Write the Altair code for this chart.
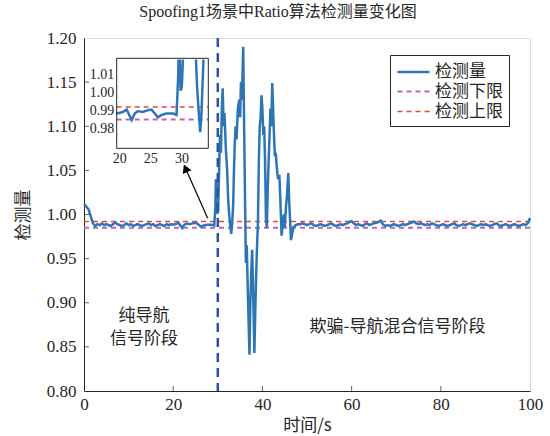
import altair as alt
import pandas as pd

# ---------------- data ----------------
series_names = ["检测量", "检测下限", "检测上限"]
series_colors = ["#2e75b6", "#c060c4", "#e8473f"]

# before spoofing (pure navigation)
t_pre = [0.0, 0.5, 1.0, 1.5, 2.0, 2.5, 3.0, 3.5, 4.0, 4.5,
         5.0, 5.5, 6.0, 6.5, 7.0, 7.5, 8.0, 8.5, 9.0, 9.5,
         10.0, 10.5, 11.0, 11.5, 12.0, 12.5, 13.0, 13.5, 14.0, 14.5,
         15.0, 15.5, 16.0, 16.5, 17.0, 17.5, 18.0, 18.5, 19.0, 19.5,
         19.7, 20.6, 21.2, 21.7, 22.0, 22.5, 23.0, 23.8, 24.6, 25.2,
         25.7, 26.2, 26.8, 27.6, 28.6, 29.2, 29.45]
v_pre = [1.012, 1.009, 1.006, 0.998, 0.990, 0.987, 0.989, 0.988, 0.990, 0.988,
         0.989, 0.988, 0.987, 0.989, 0.991, 0.989, 0.988, 0.987, 0.988, 0.990,
         0.988, 0.989, 0.987, 0.988, 0.989, 0.988, 0.987, 0.988, 0.989, 0.990,
         0.988, 0.989, 0.987, 0.988, 0.989, 0.988, 0.987, 0.989, 0.988, 0.989,
         0.9884, 0.9892, 0.9905, 0.9869, 0.9847, 0.9884, 0.9896, 0.9892, 0.9902, 0.9905,
         0.9884, 0.9862, 0.9875, 0.9884, 0.9884, 0.9875, 1.0075]

# spoofing transition
t_spoof = [29.57, 29.7, 29.85, 30.05, 30.3, 30.5, 30.7, 30.9, 31.1, 31.3,
           31.5, 31.8, 32.1, 32.3, 32.5, 32.75, 33.0, 33.2, 33.45, 33.6,
           33.8, 34.0, 34.2, 34.5, 34.8, 35.0, 35.2, 35.4, 35.7, 35.9,
           36.1, 36.3, 36.5, 36.7, 36.9, 37.1, 37.3, 37.5, 37.7, 37.9,
           38.0, 38.2, 38.4, 38.6, 38.8, 39.0, 39.2, 39.4, 39.6, 39.8,
           40.0, 40.2, 40.4, 40.6, 40.8, 41.0, 41.2, 41.4, 41.6, 41.8,
           42.0, 42.2, 42.4, 42.6, 42.8, 43.0, 43.2, 43.5, 43.8, 44.0,
           44.3, 44.6, 44.8, 45.0, 45.3, 45.5, 45.8, 46.0, 46.2, 46.4,
           46.7, 47.0]
v_spoof = [1.040, 1.035, 1.001, 1.003, 1.050, 1.090, 1.070, 1.120, 1.143, 1.100,
           1.115, 1.075, 1.050, 1.020, 1.003, 0.990, 0.978, 0.988, 1.011, 1.045,
           1.080, 1.100, 1.085, 1.120, 1.130, 1.110, 1.150, 1.130, 1.190, 1.100,
           1.020, 0.945, 0.965, 0.920, 0.880, 0.841, 0.900, 0.935, 0.960, 0.920,
           0.895, 0.843, 0.890, 0.930, 0.965, 0.990, 1.060, 1.100, 1.110, 1.135,
           1.120, 1.090, 1.100, 1.060, 0.995, 0.985, 1.030, 1.060, 1.090, 1.120,
           1.100, 1.149, 1.120, 1.090, 1.066, 1.070, 1.055, 1.040, 1.045, 1.020,
           0.976, 0.990, 1.000, 0.985, 1.010, 1.020, 1.047, 1.015, 0.995, 0.971,
           0.979, 0.986]

# after spoofing settles
t_post = [47.5, 48.0, 48.5, 49.0, 49.5, 50.0, 50.5, 51.0, 51.5, 52.0,
          52.5, 53.0, 53.5, 54.0, 54.5, 55.0, 55.5, 56.0, 56.5, 57.0,
          57.5, 58.0, 58.5, 59.0, 59.5, 60.0, 60.5, 61.0, 61.5, 62.0,
          62.5, 63.0, 63.5, 64.0, 64.5, 65.0, 65.5, 66.0, 66.5, 67.0,
          67.5, 68.0, 68.5, 69.0, 69.5, 70.0, 70.5, 71.0, 71.5, 72.0,
          72.5, 73.0, 73.5, 74.0, 74.5, 75.0, 75.5, 76.0, 76.5, 77.0,
          77.5, 78.0, 78.5, 79.0, 79.5, 80.0, 80.5, 81.0, 81.5, 82.0,
          82.5, 83.0, 83.5, 84.0, 84.5, 85.0, 85.5, 86.0, 86.5, 87.0,
          87.5, 88.0, 88.5, 89.0, 89.5, 90.0, 90.5, 91.0, 91.5, 92.0,
          92.5, 93.0, 93.5, 94.0, 94.5, 95.0, 95.5, 96.0, 96.5, 97.0,
          97.5, 98.0, 98.5, 99.0, 99.5, 100.0]
v_post = [0.988, 0.989, 0.989, 0.990, 0.989, 0.988, 0.989, 0.990, 0.988, 0.987,
          0.988, 0.989, 0.988, 0.987, 0.988, 0.989, 0.990, 0.988, 0.987, 0.988,
          0.989, 0.988, 0.989, 0.990, 0.9915, 0.9925, 0.990, 0.988, 0.989, 0.988,
          0.987, 0.989, 0.990, 0.988, 0.989, 0.990, 0.9905, 0.9915, 0.993, 0.989,
          0.987, 0.988, 0.987, 0.988, 0.989, 0.988, 0.987, 0.988, 0.989, 0.988,
          0.989, 0.990, 0.991, 0.992, 0.990, 0.989, 0.990, 0.989, 0.988, 0.989,
          0.988, 0.990, 0.989, 0.988, 0.987, 0.988, 0.989, 0.988, 0.987, 0.988,
          0.989, 0.990, 0.988, 0.987, 0.988, 0.989, 0.988, 0.989, 0.990, 0.989,
          0.988, 0.987, 0.988, 0.989, 0.988, 0.989, 0.988, 0.987, 0.988, 0.989,
          0.990, 0.988, 0.987, 0.988, 0.989, 0.988, 0.987, 0.988, 0.989, 0.988,
          0.987, 0.988, 0.989, 0.988, 0.990, 0.996]

lower_limit = 0.985
upper_limit = 0.992
limit_t = [0.0, 100.0]

spoof_start = [30.0]

x_ticks = [20, 40, 60, 80]
y_ticks = [0.85, 0.90, 0.95, 1.00, 1.05, 1.10, 1.15]

inset_t = [19.6, 34.3]
inset_v = [0.969, 1.019]
inset_mask_v = [1.0195, 1.025]

arrow_tail = [27.73, 0.9957]
arrow_head = [22.76, 1.0523]

phase_labels = ["纯导航", "信号阶段", "欺骗-导航混合信号阶段"]
phase_t = [13.45, 13.45, 70.3]
phase_v = [0.8848, 0.8594, 0.8729]

# ---------------- frames ----------------
t_all = t_pre + t_spoof + t_post
v_all = v_pre + v_spoof + v_post
main_df = pd.DataFrame({"t": t_all, "v": v_all, "series": series_names[0]})
lim_df = pd.DataFrame({
    "t": limit_t + limit_t,
    "v": [lower_limit] * 2 + [upper_limit] * 2,
    "series": [series_names[1]] * 2 + [series_names[2]] * 2,
})
lines_df = pd.concat([lim_df, main_df], ignore_index=True)
lines_df["order"] = range(len(lines_df))

inset_main = main_df[(main_df.t >= 19.5) & (main_df.t <= 34.5)]
inset_lim = pd.DataFrame({
    "t": inset_t + inset_t,
    "v": [lower_limit] * 2 + [upper_limit] * 2,
    "series": [series_names[1]] * 2 + [series_names[2]] * 2,
})
inset_lines = pd.concat([inset_lim, inset_main], ignore_index=True)

SERIF = "Liberation Serif, Noto Sans CJK SC"
CJK = "Noto Sans CJK SC"
INK = "#262626"

main_x = alt.Scale(domain=[0, 100], nice=False, zero=False)
main_y = alt.Scale(domain=[0.80, 1.20], nice=False, zero=False)

legend = alt.Legend(
    title=None, orient="none", legendX=306, legendY=17,
    symbolType="M-1,0H2.37", symbolSize=361, symbolStrokeWidth=2,
    labelFont=CJK, labelFontSize=17, labelColor=INK, labelOffset=17,
    padding=6, rowPadding=1, strokeColor=INK, fillColor="white",
)
color_enc = alt.Color("series:N", sort=series_names,
                      scale=alt.Scale(domain=series_names, range=series_colors),
                      legend=legend)
dash_enc = alt.StrokeDash("series:N", sort=series_names,
                          scale=alt.Scale(domain=series_names, range=[[1, 0], [5, 4], [5, 4]]),
                          legend=legend)
width_enc = alt.StrokeWidth("series:N",
                            scale=alt.Scale(domain=series_names, range=[2.5, 1.5, 1.5]),
                            legend=None)

main_lines = alt.Chart(lines_df).mark_line().encode(
    x=alt.X("t:Q", scale=main_x, title="时间/s",
            axis=alt.Axis(values=[0, 20, 40, 60, 80, 100], format="d", ticks=False,
                          grid=False, labelFont=SERIF, labelFontSize=17, labelColor=INK,
                          labelPadding=5, labelFlush=False, labelOverlap=False,
                          titleFont=CJK, titleFontSize=17,
                          titleFontWeight="normal", titleColor=INK, titlePadding=5,
                          domainColor=INK, orient="bottom")),
    y=alt.Y("v:Q", scale=main_y, title="检测量",
            axis=alt.Axis(values=[0.80, 0.85, 0.90, 0.95, 1.00, 1.05, 1.10, 1.15, 1.20],
                          format=".2f", ticks=False, grid=False, labelFont=SERIF,
                          labelFontSize=17, labelColor=INK, labelPadding=8,
                          labelFlush=False, labelOverlap=False,
                          titleFont=CJK, titleFontSize=17, titleFontWeight="normal",
                          titleColor=INK, titlePadding=14, domainColor=INK, orient="left")),
    color=color_enc,
    strokeDash=dash_enc,
    strokeWidth=width_enc,
    order="order:Q",
)

vline = alt.Chart(pd.DataFrame({"t": spoof_start})).mark_rule(
    color="#2a52a6", strokeWidth=2.5, strokeDash=[9, 6]
).encode(x=alt.X("t:Q", scale=main_x, axis=None))

xtick_marks = alt.Chart(pd.DataFrame({"t": x_ticks})).mark_tick(
    color=INK, thickness=1
).encode(x=alt.X("t:Q", scale=main_x, axis=None), y=alt.value(350.5), size=alt.value(5))

ytick_marks = alt.Chart(pd.DataFrame({"v": y_ticks})).mark_tick(
    color=INK, thickness=1
).encode(y=alt.Y("v:Q", scale=main_y, axis=None), x=alt.value(2.5), size=alt.value(5))

arrow_df = pd.DataFrame({"t1": [arrow_tail[0]], "v1": [arrow_tail[1]],
                         "t2": [arrow_head[0]], "v2": [arrow_head[1]]})
arrow_line = alt.Chart(arrow_df).mark_rule(color="black", strokeWidth=1.2).encode(
    x=alt.X("t1:Q", scale=main_x, axis=None), y=alt.Y("v1:Q", scale=main_y, axis=None),
    x2="t2:Q", y2="v2:Q")
arrow_tip = alt.Chart(arrow_df).mark_point(
    shape="triangle-up", filled=True, color="black", size=90, angle=336, opacity=1
).encode(x=alt.X("t2:Q", scale=main_x, axis=None), y=alt.Y("v2:Q", scale=main_y, axis=None))

phase_df = pd.DataFrame({"label": phase_labels, "t": phase_t, "v": phase_v})
phase_text = alt.Chart(phase_df).mark_text(
    font=CJK, fontSize=17, color=INK, align="center", baseline="middle"
).encode(x=alt.X("t:Q", scale=main_x, axis=None),
         y=alt.Y("v:Q", scale=main_y, axis=None), text="label:N")

# ---------------- inset ----------------
inset_x = alt.Scale(domain=inset_t, range=[32.7, 124.3], nice=False, zero=False, clamp=True)
inset_y = alt.Scale(domain=[inset_v[0], inset_mask_v[1]], range=[110.3, 9.5],
                    nice=False, zero=False, clamp=True)
box_df = pd.DataFrame({"x0": [inset_t[0]], "x1": [inset_t[1]],
                       "y0": [inset_v[0]], "y1": [inset_v[1]]})
mask_df = pd.DataFrame({"x0": [inset_t[0]], "x1": [inset_t[1]],
                        "y0": [inset_mask_v[0]], "y1": [inset_mask_v[1]]})

inset_bg = alt.Chart(box_df).mark_rect(fill="white").encode(
    x=alt.X("x0:Q", scale=inset_x,
            axis=alt.Axis(orient="bottom", offset=-242.7, values=[20, 25, 30], format="d",
                          ticks=False, domain=False, grid=False, title=None,
                          labelFlush=False, labelOverlap=False,
                          labelFont=SERIF, labelFontSize=14, labelColor=INK, labelPadding=3)),
    x2="x1:Q",
    y=alt.Y("y0:Q", scale=inset_y,
            axis=alt.Axis(orient="left", offset=-32.7, values=[0.98, 0.99, 1.00, 1.01],
                          format=".2f", ticks=False, domain=False, grid=False, title=None,
                          labelFlush=False, labelOverlap=False,
                          labelFont=SERIF, labelFontSize=14, labelColor=INK, labelPadding=3)),
    y2="y1:Q",
)
inset_line = alt.Chart(inset_lines).mark_line().encode(
    x=alt.X("t:Q", scale=inset_x, axis=None),
    y=alt.Y("v:Q", scale=inset_y, axis=None),
    color=color_enc, strokeDash=dash_enc, strokeWidth=width_enc,
)
inset_mask = alt.Chart(mask_df).mark_rect(fill="white", stroke="white", strokeWidth=4).encode(
    x=alt.X("x0:Q", scale=inset_x, axis=None), x2="x1:Q",
    y=alt.Y("y0:Q", scale=inset_y, axis=None), y2="y1:Q")
inset_frame = alt.Chart(box_df).mark_rect(fillOpacity=0, stroke=INK, strokeWidth=1).encode(
    x=alt.X("x0:Q", scale=inset_x, axis=None), x2="x1:Q",
    y=alt.Y("y0:Q", scale=inset_y, axis=None), y2="y1:Q")

chart = alt.layer(
    main_lines, vline, xtick_marks, ytick_marks, arrow_line, arrow_tip, phase_text,
    inset_bg, inset_line, inset_mask, inset_frame,
).resolve_scale(
    x="independent", y="independent"
).properties(
    width=446, height=353,
    title=alt.TitleParams(text="Spoofing1场景中Ratio算法检测量变化图", font=SERIF,
                          fontSize=16, fontWeight="normal", color=INK, anchor="middle",
                          dx=-29, offset=9),
    padding={"left": 84, "top": 38, "right": 20, "bottom": 45},
    autosize=alt.AutoSizeParams(type="none"),
).configure_view(stroke=INK, strokeWidth=1).configure(background="white")

chart.save("out.html", embed_options={"renderer": "svg", "actions": False})
